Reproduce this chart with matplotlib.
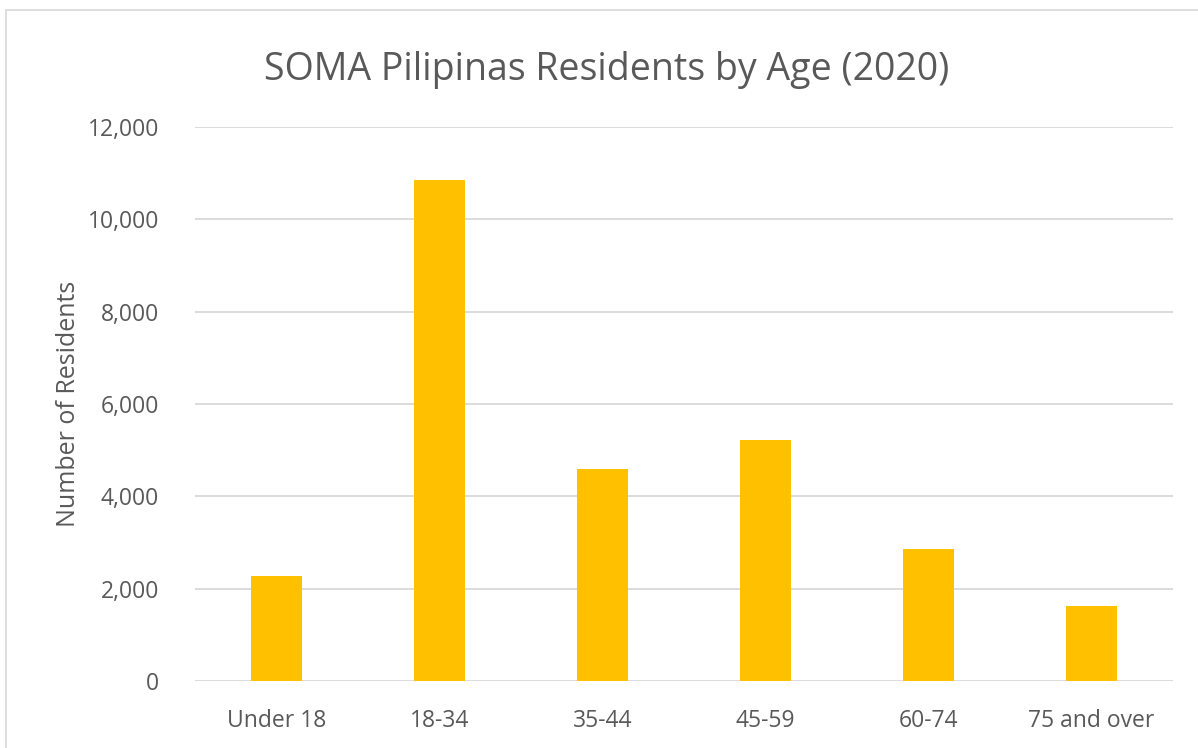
import matplotlib
matplotlib.use("Agg")
from matplotlib import pyplot as plt
from matplotlib.patches import Rectangle
from matplotlib.ticker import FuncFormatter

age_groups = ["Under 18", "18-34", "35-44", "45-59", "60-74", "75 and over"]
residents = [2270, 10850, 4590, 5220, 2860, 1630]
y_ticks = [0, 2000, 4000, 6000, 8000, 10000, 12000]

text_grey = "#595959"
bar_gold = "#FFC000"
grid_grey = "#D9D9D9"

plt.rcParams['font.family'] = ['Open Sans', 'DejaVu Sans']

fig = plt.figure(figsize=(11.98, 7.48), dpi=100)
ax = fig.add_axes([195 / 1198, 1 - 681 / 748, 978 / 1198, 554 / 748])

# thin outer chart border (cropped on the right and bottom)
fig.patches.append(Rectangle((6 / 1198, -0.1), 1.2, 1 - 10 / 748 + 0.1,
                             transform=fig.transFigure, fill=False,
                             edgecolor="#D9D9D9", linewidth=1.2))

x = range(len(age_groups))
ax.bar(x, residents, width=0.31, color=bar_gold, zorder=3)

ax.set_xlim(-0.5, len(age_groups) - 0.5)
ax.set_ylim(0, 12000)
ax.set_yticks(y_ticks)
ax.yaxis.set_major_formatter(FuncFormatter(lambda v, p: f"{int(v):,}"))
ax.set_xticks(list(x))
ax.set_xticklabels(age_groups)

ax.grid(axis="y", color=grid_grey, linewidth=1.3, zorder=0)
for s in ax.spines.values():
  s.set_visible(False)
ax.tick_params(axis="both", length=0, colors=text_grey, labelsize=16.5)
ax.tick_params(axis="y", pad=26)
ax.tick_params(axis="x", pad=20)

ax.set_ylabel("Number of Residents", color=text_grey, fontsize=18, labelpad=5)
fig.text(607 / 1198, 1 - 70 / 748, "SOMA Pilipinas Residents by Age (2020)",
         ha="center", va="center", color=text_grey, fontsize=27)

plt.savefig("out.png", dpi=100)
